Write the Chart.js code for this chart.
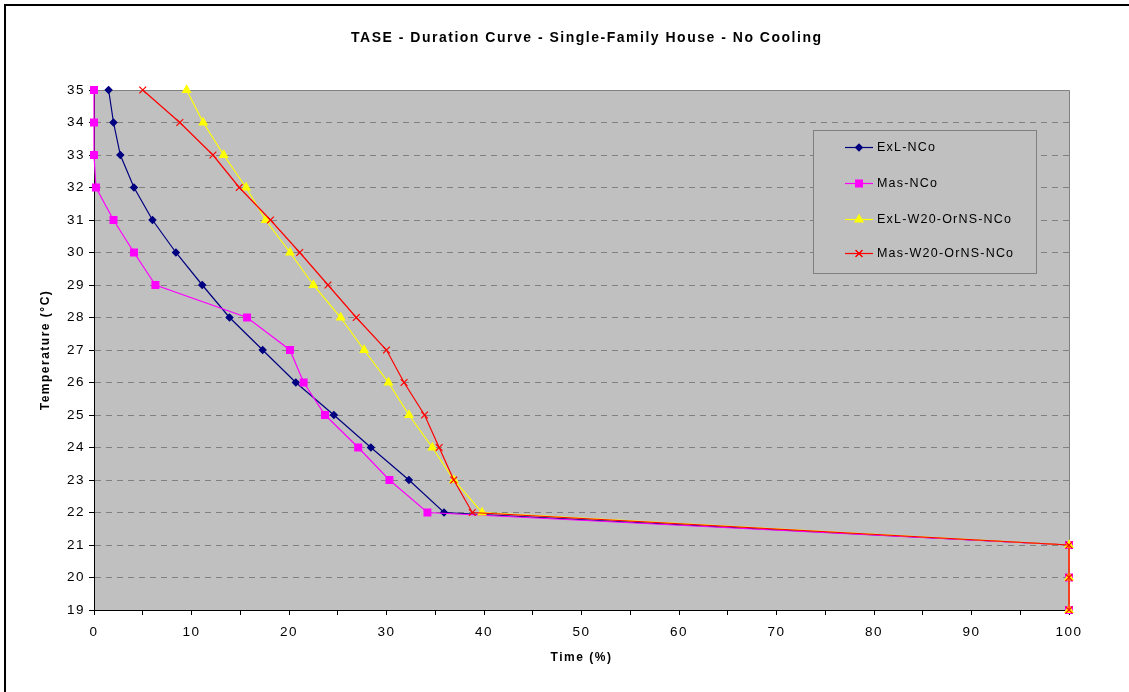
<!DOCTYPE html>
<html><head><meta charset="utf-8">
<script src="https://cdn.jsdelivr.net/npm/chart.js@4.4.0/dist/chart.umd.min.js"></script>
<style>html,body{margin:0;padding:0;background:#fff;overflow:hidden}#wrap{width:1129px;height:692px;position:relative}</style>
</head><body><div id="wrap"><canvas id="c" width="1129" height="692"></canvas></div>
<script>
const titleText = 'TASE - Duration Curve - Single-Family House - No Cooling';
const xTitle = 'Time (%)';
const yTitle = 'Temperature (°C)';
const temperatures = [35,34,33,32,31,30,29,28,27,26,25,24,23,22,21,20,19];
const exlNCo = [1.5,2.0,2.7,4.1,6.0,8.4,11.1,13.9,17.3,20.7,24.6,28.4,32.3,35.9,100,100,100];
const masNCo = [0,0,0,0.2,2.0,4.1,6.3,15.7,20.1,21.5,23.7,27.1,30.3,34.2,100,100,100];
const exlW20 = [9.5,11.2,13.3,15.6,17.6,20.1,22.5,25.3,27.7,30.2,32.3,34.7,36.9,39.8,100,100,100];
const masW20 = [5.0,8.8,12.2,14.9,18.1,21.1,24.0,26.9,30.0,31.8,33.9,35.4,36.9,38.8,100,100,100];
const seriesNames = ['ExL-NCo','Mas-NCo','ExL-W20-OrNS-NCo','Mas-W20-OrNS-NCo'];
const seriesColors = ['#000080','#FF00FF','#FFFF00','#FF0000'];
const xTickValues = [0,10,20,30,40,50,60,70,80,90,100];

const FONT = "'Liberation Sans', Arial, sans-serif";
const pts = arr => arr.map((x,i)=>({x:x, y:temperatures[i]}));

const styles = [
  {pointStyle:'rectRot', pointRadius:3.4, order:3},
  {pointStyle:'rect', pointRadius:4.8, order:2},
  {pointStyle:'triangle', pointRadius:4.6, order:1},
  {pointStyle:'crossRot', pointRadius:4.8, order:0}
];
const values = [exlNCo, masNCo, exlW20, masW20];
const datasets = values.map((v,i)=>({
  label: seriesNames[i],
  data: pts(v),
  borderColor: seriesColors[i],
  backgroundColor: seriesColors[i],
  pointBackgroundColor: seriesColors[i],
  pointBorderColor: seriesColors[i],
  pointBorderWidth: 1.2,
  borderWidth: 1.2,
  pointStyle: styles[i].pointStyle,
  pointRadius: styles[i].pointRadius,
  pointHoverRadius: styles[i].pointRadius,
  order: styles[i].order,
  tension: 0,
  clip: false
}));

const decor = {
  id:'decor',
  beforeDraw(chart){
    const {ctx, chartArea:a} = chart;
    ctx.save();
    ctx.fillStyle='#fff'; ctx.fillRect(0,0,chart.width,chart.height);
    ctx.strokeStyle='#000'; ctx.lineWidth=2;
    ctx.strokeRect(5,5,chart.width+20,chart.height+20);
    ctx.fillStyle='#C0C0C0';
    ctx.fillRect(a.left,a.top,a.right-a.left,a.bottom-a.top);
    ctx.restore();
    ctx.letterSpacing = '1.5px';
  },
  beforeDatasetsDraw(chart){
    const {ctx, chartArea:a} = chart;
    ctx.save();
    ctx.strokeStyle='#808080'; ctx.lineWidth=1;
    ctx.beginPath();
    ctx.moveTo(a.left, a.top+0.5); ctx.lineTo(a.right+0.5, a.top+0.5); ctx.lineTo(a.right+0.5, a.bottom);
    ctx.stroke();
    ctx.restore();
  },
  afterDraw(chart){
    const ctx = chart.ctx;
    ctx.save();
    // title
    ctx.font = "bold 14px " + FONT;
    ctx.fillStyle = '#000';
    ctx.textAlign = 'left'; ctx.textBaseline='middle';
    ctx.letterSpacing = '0px';
    const w0 = ctx.measureText(titleText).width;
    const ls = (470 - w0) / (titleText.length - 1);
    ctx.letterSpacing = ls + 'px';
    ctx.fillText(titleText, 586 - 235, 38);
    // legend
    const bx=813, by=130, bw=223, bh=143;
    ctx.letterSpacing = '0px';
    ctx.fillStyle='#C0C0C0'; ctx.fillRect(bx,by,bw,bh);
    ctx.strokeStyle='#808080'; ctx.lineWidth=1; ctx.strokeRect(bx+0.5,by+0.5,bw,bh);
    const rows=[147,183,219,253];
    chart.data.datasets.forEach((ds,i)=>{
      const y=rows[i];
      ctx.strokeStyle=ds.borderColor; ctx.lineWidth=1.2;
      ctx.beginPath(); ctx.moveTo(845,y+0.5); ctx.lineTo(873,y+0.5); ctx.stroke();
      ctx.fillStyle=ds.pointBackgroundColor;
      Chart.helpers.drawPoint(ctx,{pointStyle:ds.pointStyle,radius:ds.pointRadius,rotation:0,borderWidth:1.2},859,y+0.5);
      if (ds.pointStyle==='crossRot') { ctx.stroke(); }
      else { ctx.fill(); }
      ctx.font = "12.5px " + FONT;
      ctx.fillStyle='#000';
      ctx.letterSpacing='1.2px';
      ctx.textBaseline='middle'; ctx.textAlign='left';
      ctx.fillText(ds.label, 877, y+0.5);
      ctx.letterSpacing='0px';
    });
    ctx.restore();
  }
};

new Chart(document.getElementById('c'), {
  type:'line',
  data:{datasets},
  options:{
    responsive:false, animation:false,
    layout:{padding:{left:0,right:60,top:90,bottom:0}},
    plugins:{legend:{display:false}, title:{display:false}, tooltip:{enabled:false}},
    scales:{
      x:{
        type:'linear', min:0, max:100,
        afterFit(s){ s.height = 82; },
        afterBuildTicks(s){ s.ticks = []; for(let v=0; v<=100; v+=5) s.ticks.push({value:v}); },
        ticks:{ autoSkip:false, maxRotation:0, padding:9, color:'#000',
          font:{size:13.5, family:FONT},
          callback:(v)=> xTickValues.includes(v) ? String(v) : '' },
        grid:{ drawOnChartArea:false, drawTicks:true, tickLength:5, tickColor:'#000', color:'#000' },
        border:{ display:true, color:'#000', width:1 },
        title:{ display:true, text:xTitle, color:'#000', font:{size:12, weight:'bold', family:FONT}, padding:{top:0,bottom:27} }
      },
      y:{
        type:'linear', min:19, max:35,
        afterFit(s){ s.width = 94; },
        ticks:{ stepSize:1, autoSkip:false, padding:4, color:'#000', font:{size:13.5, family:FONT} },
        grid:{ color:'#808080', tickColor:'#000', tickLength:5, lineWidth:1 },
        border:{ display:true, color:'#000', width:1, dash:[6,5] },
        title:{ display:true, text:yTitle, color:'#000', font:{size:12, weight:'bold', family:FONT}, padding:{top:38,bottom:0} }
      }
    }
  },
  plugins:[decor]
});
</script></body></html>
